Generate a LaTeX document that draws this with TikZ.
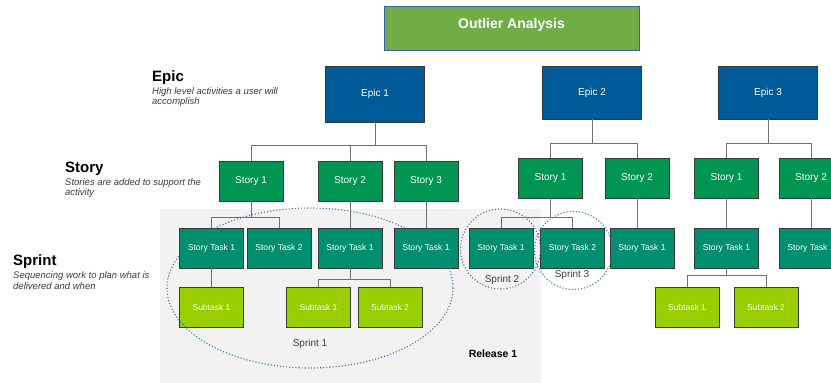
\documentclass[tikz,border=0pt]{standalone}
\usepackage{fontspec}
\setmainfont{Liberation Sans}
\definecolor{epicblue}{HTML}{005C99}
\definecolor{storygreen}{HTML}{009651}
\definecolor{taskgreen}{HTML}{008F6E}
\definecolor{subgreen}{HTML}{99CF00}
\definecolor{titlegreen}{HTML}{70AD47}
\definecolor{titleborder}{HTML}{3D5DA6}
\definecolor{boxborder}{HTML}{3A3A3A}
\definecolor{conngray}{HTML}{707070}
\definecolor{sprintblue}{HTML}{3A78A0}
\definecolor{descgray}{HTML}{3C3C3C}
\definecolor{releasebg}{HTML}{F2F2F2}
\begin{document}
\begin{tikzpicture}[x=1pt,y=-1pt,
  box/.style={draw=boxborder, line width=0.6pt, minimum width=64pt, minimum height=40pt, inner sep=0pt, text=white, font=\fontsize{10}{12}\selectfont},
  epicbox/.style={box, fill=epicblue, minimum width=99pt, minimum height=53pt},
  storybox/.style={box, fill=storygreen},
  taskbox/.style={box, fill=taskgreen, font=\fontsize{8.6}{10}\selectfont},
  subbox/.style={box, fill=subgreen, font=\fontsize{8.5}{10}\selectfont, text=white!95!subgreen},
  conn/.style={draw=conngray, line width=0.8pt},
  sprintline/.style={draw=sprintblue, dotted, line width=1.1pt},
  head/.style={font=\bfseries\fontsize{15}{18}\selectfont, anchor=base west, inner sep=0pt},
  desc/.style={font=\itshape\fontsize{9.5}{11}\selectfont, anchor=base west, inner sep=0pt, text=descgray},
  lbl/.style={font=\fontsize{10}{12}\selectfont, inner sep=0pt, text=descgray}
]
\path[use as bounding box, clip] (0,0) rectangle (831,383);

% release background
\fill[releasebg] (160,209) rectangle (541,383);

% title
\node[draw=titleborder, line width=1pt, fill=titlegreen, minimum width=255pt, minimum height=44pt, inner sep=0pt, text=white, font=\bfseries\fontsize{14}{16}\selectfont, text height=10pt, text depth=10pt] (oa) at (511.5,28) {Outlier Analysis};

% level labels
\node[head] (hepic) at (152,81) {Epic};
\node[desc] (depic1) at (152,94) {High level activities a user will};
\node[desc] (depic2) at (152,104.5) {accomplish};
\node[head] (hstory) at (65,172) {Story};
\node[desc] (dstory1) at (65,185) {Stories are added to support the};
\node[desc] (dstory2) at (65,195.5) {activity};
\node[head] (hsprint) at (13,265) {Sprint};
\node[desc] (dsprint1) at (13,278.5) {Sequencing work to plan what is};
\node[desc] (dsprint2) at (13,289) {delivered and when};

% epics
\node[epicbox, minimum height=56pt] (e1) at (375,94) {Epic 1};
\node[epicbox] (e2) at (592,92.5) {Epic 2};
\node[epicbox] (e3) at (768,92.5) {Epic 3};

% stories
\node[storybox] (e1s1) at (251,181) {Story 1};
\node[storybox] (e1s2) at (350,181) {Story 2};
\node[storybox] (e1s3) at (426,181) {Story 3};
\node[storybox] (e2s1) at (550.5,178) {Story 1};
\node[storybox] (e2s2) at (637,178) {Story 2};
\node[storybox] (e3s1) at (726.5,178) {Story 1};
\node[storybox] (e3s2) at (811,178) {Story 2};

% story tasks
\node[taskbox] (t111) at (211.5,248) {Story Task 1};
\node[taskbox] (t112) at (279,248) {Story Task 2};
\node[taskbox] (t121) at (350,248) {Story Task 1};
\node[taskbox] (t131) at (426,248) {Story Task 1};
\node[taskbox] (t211) at (501,248) {Story Task 1};
\node[taskbox] (t212) at (572.5,248) {Story Task 2};
\node[taskbox] (t221) at (642,248) {Story Task 1};
\node[taskbox] (t311) at (726.5,248) {Story Task 1};
\node[taskbox] (t321) at (811,248) {Story Task 1};

% subtasks
\node[subbox] (u1111) at (211.5,307) {Subtask 1};
\node[subbox] (u1211) at (318.5,307) {Subtask 1};
\node[subbox] (u1212) at (390,307) {Subtask 2};
\node[subbox] (u3111) at (687,307) {Subtask 1};
\node[subbox] (u3112) at (766,307) {Subtask 2};

% bus levels
\coordinate (b1) at (0,145);
\coordinate (b2) at (0,143);
\coordinate (b3) at (0,217);
\coordinate (b4) at (0,279);
\coordinate (b5) at (0,275);

% connectors
\draw[conn] (e1.south) -- (e1.south |- b1) -| (e1s1.north);
\draw[conn] (e1.south |- b1) -| (e1s2.north);
\draw[conn] (e1.south |- b1) -| (e1s3.north);
\draw[conn] (e2.south) -- (e2.south |- b2) -| (e2s1.north);
\draw[conn] (e2.south |- b2) -| (e2s2.north);
\draw[conn] (e3.south) -- (e3.south |- b2) -| (e3s1.north);
\draw[conn] (e3.south |- b2) -| (e3s2.north);

\draw[conn] (e1s1.south) -- (e1s1.south |- b3) -| (t111.north);
\draw[conn] (e1s1.south |- b3) -| (t112.north);
\draw[conn] (e1s2.south) -- (t121.north);
\draw[conn] (e1s3.south) -- (t131.north);
\draw[conn] (e2s1.south) -- (e2s1.south |- b3) -| (t211.north);
\draw[conn] (e2s1.south |- b3) -| (t212.north);
\draw[conn] (e2s2.south) -- (e2s2.south |- t221.north);
\draw[conn] (e3s1.south) -- (t311.north);
\draw[conn] (e3s2.south) -- (t321.north);

\draw[conn] (t111.south) -- (u1111.north);
\draw[conn] (t121.south) -- (t121.south |- b4) -| (u1211.north);
\draw[conn] (t121.south |- b4) -| (u1212.north);
\draw[conn] (t311.south) -- (t311.south |- b5) -| (u3111.north);
\draw[conn] (t311.south |- b5) -| (u3112.north);

% sprints
\draw[sprintline] (310,288) ellipse [x radius=143, y radius=80];
\draw[sprintline] (500.5,249) circle [radius=40];
\draw[sprintline] (573.5,250.5) circle [radius=39];

\node[lbl] (sp1) at (310,344) {Sprint 1};
\node[lbl] (sp2) at (502,280) {Sprint 2};
\node[lbl] (sp3) at (572,275) {Sprint 3};
\node[font=\bfseries\fontsize{10.5}{12}\selectfont, inner sep=0pt] (rel) at (493,354) {Release 1};
\end{tikzpicture}
\end{document}
